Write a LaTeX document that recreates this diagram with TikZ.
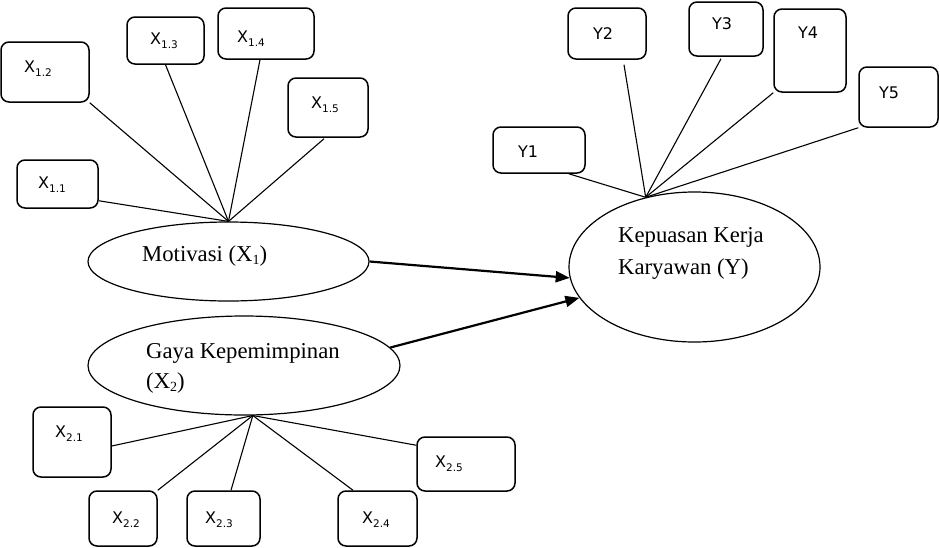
\documentclass[tikz,border=0pt]{standalone}
\usepackage{fontspec}
\setmainfont{Liberation Serif}
\newfontfamily\boxfont{DejaVu Sans}
\usetikzlibrary{shapes.geometric,arrows.meta,calc}
\newcommand\lsub[1]{\raisebox{-4pt}{\fontsize{10.5}{12}\selectfont #1}}
\newcommand\esub[1]{\raisebox{-3.5pt}{\fontsize{14}{14}\selectfont #1}}
\begin{document}
\begin{tikzpicture}[x=1pt,y=-1pt,
  ind/.style={draw,rounded corners=8pt,line width=1.5pt,inner sep=0pt},
  lbl/.style={anchor=base west,inner sep=0pt,font=\boxfont\fontsize{16}{18}\selectfont},
  lat/.style={draw,ellipse,line width=1.2pt,inner sep=0pt},
  etxt/.style={anchor=base west,inner sep=0pt,font=\fontsize{22.7}{31}\selectfont},
  link/.style={line width=1.1pt},
  arr/.style={line width=2.2pt,-{Triangle[length=14pt,width=11pt]}}]
\useasboundingbox (0,0) rectangle (940,547);
% latent variables
\node[lat,minimum width=281pt,minimum height=79pt] (m) at (228.5,261.5) {};
\node[lat,minimum width=312pt,minimum height=99pt] (g) at (244,365.5) {};
\node[lat,minimum width=251pt,minimum height=150pt] (k) at (694.5,267) {};
\node[etxt] (mt) at (142,261) {Motivasi (X\esub{1})};
\node[etxt] (gt1) at (146,358) {Gaya Kepemimpinan};
\node[etxt] (gt2) at (146,388) {(X\esub{2})};
\node[etxt] (kt1) at (618,242) {Kepuasan Kerja};
\node[etxt] (kt2) at (618,274) {Karyawan (Y)};
% indicator boxes X1
\node[ind,minimum width=81pt,minimum height=48pt] (b11) at (57.5,184) {};
\node[ind,minimum width=88pt,minimum height=60pt] (b12) at (45,72) {};
\node[ind,minimum width=77pt,minimum height=47pt] (b13) at (165.5,40.5) {};
\node[ind,minimum width=96pt,minimum height=51pt] (b14) at (266,33.5) {};
\node[ind,minimum width=80pt,minimum height=59pt] (b15) at (328,107.5) {};
\node[lbl] (l11) at (38,188) {X\lsub{1.1}};
\node[lbl] (l12) at (24,72) {X\lsub{1.2}};
\node[lbl] (l13) at (150,44) {X\lsub{1.3}};
\node[lbl] (l14) at (237,42) {X\lsub{1.4}};
\node[lbl] (l15) at (311,108) {X\lsub{1.5}};
% indicator boxes Y
\node[ind,minimum width=92pt,minimum height=46pt] (y1) at (539,150) {};
\node[ind,minimum width=78pt,minimum height=51pt] (y2) at (607,33.5) {};
\node[ind,minimum width=74pt,minimum height=54pt] (y3) at (726,29) {};
\node[ind,minimum width=72pt,minimum height=83pt] (y4) at (810,50.5) {};
\node[ind,minimum width=79pt,minimum height=60pt] (y5) at (898.5,97) {};
\node[lbl] (ly1) at (518,157) {Y1};
\node[lbl] (ly2) at (593,39) {Y2};
\node[lbl] (ly3) at (712,29) {Y3};
\node[lbl] (ly4) at (798,38) {Y4};
\node[lbl] (ly5) at (879,98) {Y5};
% indicator boxes X2
\node[ind,minimum width=78pt,minimum height=70pt] (c21) at (72,442) {};
\node[ind,minimum width=68pt,minimum height=55pt] (c22) at (123,518.5) {};
\node[ind,minimum width=73pt,minimum height=55pt] (c23) at (223.5,518.5) {};
\node[ind,minimum width=79pt,minimum height=55pt] (c24) at (377.5,518.5) {};
\node[ind,minimum width=98pt,minimum height=54pt] (c25) at (466,464) {};
\node[lbl] (l21) at (55,437) {X\lsub{2.1}};
\node[lbl] (l22) at (112,523) {X\lsub{2.2}};
\node[lbl] (l23) at (205,523) {X\lsub{2.3}};
\node[lbl] (l24) at (362,523) {X\lsub{2.4}};
\node[lbl] (l25) at (435,467) {X\lsub{2.5}};
% connectors X1
\draw[link] ($(b11.south east)+(0,-8)$) -- (m.north);
\draw[link] (b12.south east) -- (m.north);
\draw[link] (b13.south) -- (m.north);
\draw[link] ($(b14.south)+(-6,0)$) -- (m.north);
\draw[link] ($(b15.south)+(-4,1)$) -- (m.north);
% connectors Y
\draw[link] ($(y1.south east)+(-17,0)$) -- (k.125);
\draw[link] ($(y2.south)+(17,5)$) -- (k.125);
\draw[link] ($(y3.south)+(-5,2)$) -- (k.125);
\draw[link] (y4.south west) -- (k.125);
\draw[link] (y5.south west) -- (k.125);
% connectors X2
\draw[link] ($(c21.east)+(0,4)$) -- (g.-80);
\draw[link] (c22.north east) -- (g.-80);
\draw[link] ($(c23.north)+(7.5,0)$) -- (g.-80);
\draw[link] ($(c24.north)+(-24.5,0)$) -- (g.-80);
\draw[link] ($(c25.north west)+(0,9)$) -- (g.-80);
% structural paths
\draw[arr] (m.east) -- (k.185);
\draw[arr] (g.7) -- (k.195);
\end{tikzpicture}
\end{document}
